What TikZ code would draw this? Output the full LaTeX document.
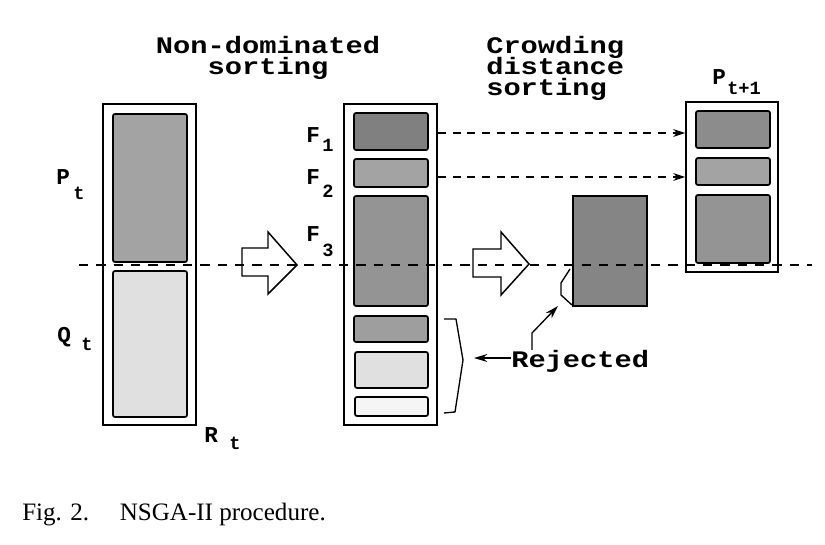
\documentclass[tikz,border=0pt]{standalone}
\usepackage{fontspec}
\setmainfont{Liberation Serif}
\setmonofont{Liberation Mono}
\newfontfamily\tmono[FakeStretch=1.21]{Liberation Mono}
\usetikzlibrary{fit,arrows.meta}
\newcommand\tfont{\tmono\bfseries\fontsize{17.8}{15.6}\selectfont\lineskiplimit=-100pt\lineskip=0pt}
\newcommand\lfont{\ttfamily\bfseries\fontsize{17}{17}\selectfont}
\newcommand\sfont{\ttfamily\bfseries\fontsize{14}{14}\selectfont}
\begin{document}
\begin{tikzpicture}[x=0.75pt,y=-0.75pt,
  outer/.style={draw, line width=1.4pt, inner sep=0pt},
  inbox/.style={draw, line width=1.3pt, rounded corners=1.5pt, inner sep=0pt},
  txt/.style={inner sep=0pt, anchor=base west},
  blockarrow/.style={draw, line width=1.1pt, fill=white, line join=miter},
  cut/.style={draw, line width=0.8pt, dash pattern=on 7pt off 6pt},
  dasharr/.style={draw, line width=0.8pt, dash pattern=on 6pt off 5pt, -{Stealth[length=9pt,width=6pt]}},
  solidarr/.style={draw, line width=1pt, -{Stealth[length=10pt,width=6pt]}},
  brack/.style={draw, line width=1pt, line join=round}]
\useasboundingbox (0,0) rectangle (825,545);

% titles
\node[inner sep=0pt, anchor=north, align=center, font=\tfont] (t1) at (268,36) {Non-dominated\\sorting};
\node[inner sep=0pt, anchor=north west, align=left, font=\tfont] (c1) at (486,36) {Crowding\\distance\\sorting};

% left column R_t
\node[outer, fit={(103,104)(196,425)}] (R) {};
\node[inbox, fill=black!36, fit={(113,114)(187,262)}] (P) {};
\node[inbox, fill=black!12, fit={(113,271)(187,417)}] (Q) {};
\node[txt] (Pl) at (56,185) {\lfont P};
\node[txt] (Ps) at (73,200) {\sfont t};
\node[txt] (Ql) at (57,343) {\lfont Q};
\node[txt] (Qs) at (81,351) {\sfont t};
\node[txt] (Rl) at (204,442) {\lfont R};
\node[txt] (Rs) at (229,449) {\sfont t};

% first block arrow
\path[blockarrow] (242,248) -- (268,248) -- (268,232) -- (297,265) -- (268,294) -- (268,276) -- (242,276) -- cycle;

% middle column
\node[outer, fit={(344,104)(437,425)}] (M) {};
\node[inbox, fill=black!50, fit={(354,113)(428,150)}] (F1) {};
\node[inbox, fill=black!36, fit={(354,159)(428,187)}] (F2) {};
\node[inbox, fill=black!42, fit={(354,196)(428,306)}] (F3) {};
\node[inbox, fill=black!38, fit={(354,316)(428,342)}] (F4) {};
\node[inbox, fill=black!12, fit={(355,352)(428,388)}] (F5) {};
\node[inbox, fill=black!4, fit={(355,397)(428,416)}] (F6) {};
\node[txt] (F1l) at (306,143) {\lfont F};
\node[txt] (F1s) at (322,152) {\sfont 1};
\node[txt] (F2l) at (306,185) {\lfont F};
\node[txt] (F2s) at (322,198) {\sfont 2};
\node[txt] (F3l) at (306,242) {\lfont F};
\node[txt] (F3s) at (322,257) {\sfont 3};

% rejected bracket
\path[brack] (444,319) -- (456,319) -- (463,360) -- (455,412) -- (444,413);

% second block arrow
\path[blockarrow] (473,249) -- (501,249) -- (501,232) -- (529,264) -- (501,295) -- (501,277) -- (473,277) -- cycle;

% crowding distance box
\node[inbox, rounded corners=0pt, fill=black!48, fit={(573,196)(647,306)}] (C) {};
\path[brack] (570,269) -- (561,283) -- (561,295) -- (572,305);

% P_{t+1}
\node[outer, fit={(686,102)(778,272)}] (N) {};
\node[inbox, fill=black!45, fit={(696,111)(770,148)}] (N1) {};
\node[inbox, fill=black!36, fit={(696,158)(770,185)}] (N2) {};
\node[inbox, fill=black!42, fit={(696,195)(770,263)}] (N3) {};
\node[txt] (Nl) at (712,85) {\lfont P};
\node[txt] (Ns) at (727,95) {\sfont t+1};

% cut line
\coordinate (cutL) at (79,265);
\coordinate (cutR) at (812,265);
\path[cut] (cutL) -- (cutR);

% dashed arrows
\path[dasharr] (M.east |- 0,133) -- (N.west |- 0,133);
\path[dasharr] (M.east |- 0,177) -- (N.west |- 0,177);

% Rejected
\node[txt, font=\tfont] (rej) at (511,368) {Rejected};
\coordinate (braceTip) at (474,358);
\coordinate (rejUp) at (532,350);
\coordinate (rejBend) at (532,333);
\coordinate (smallTip) at (558,306);
\path[solidarr] (rej.west |- braceTip) -- (braceTip);
\path[solidarr] (rejUp) -- (rejBend) -- (smallTip);

% caption
\node[txt] (cap) at (22,520) {\fontsize{18.8}{18.8}\selectfont Fig. 2.\hspace{23pt}NSGA-II procedure.};
\end{tikzpicture}
\end{document}
